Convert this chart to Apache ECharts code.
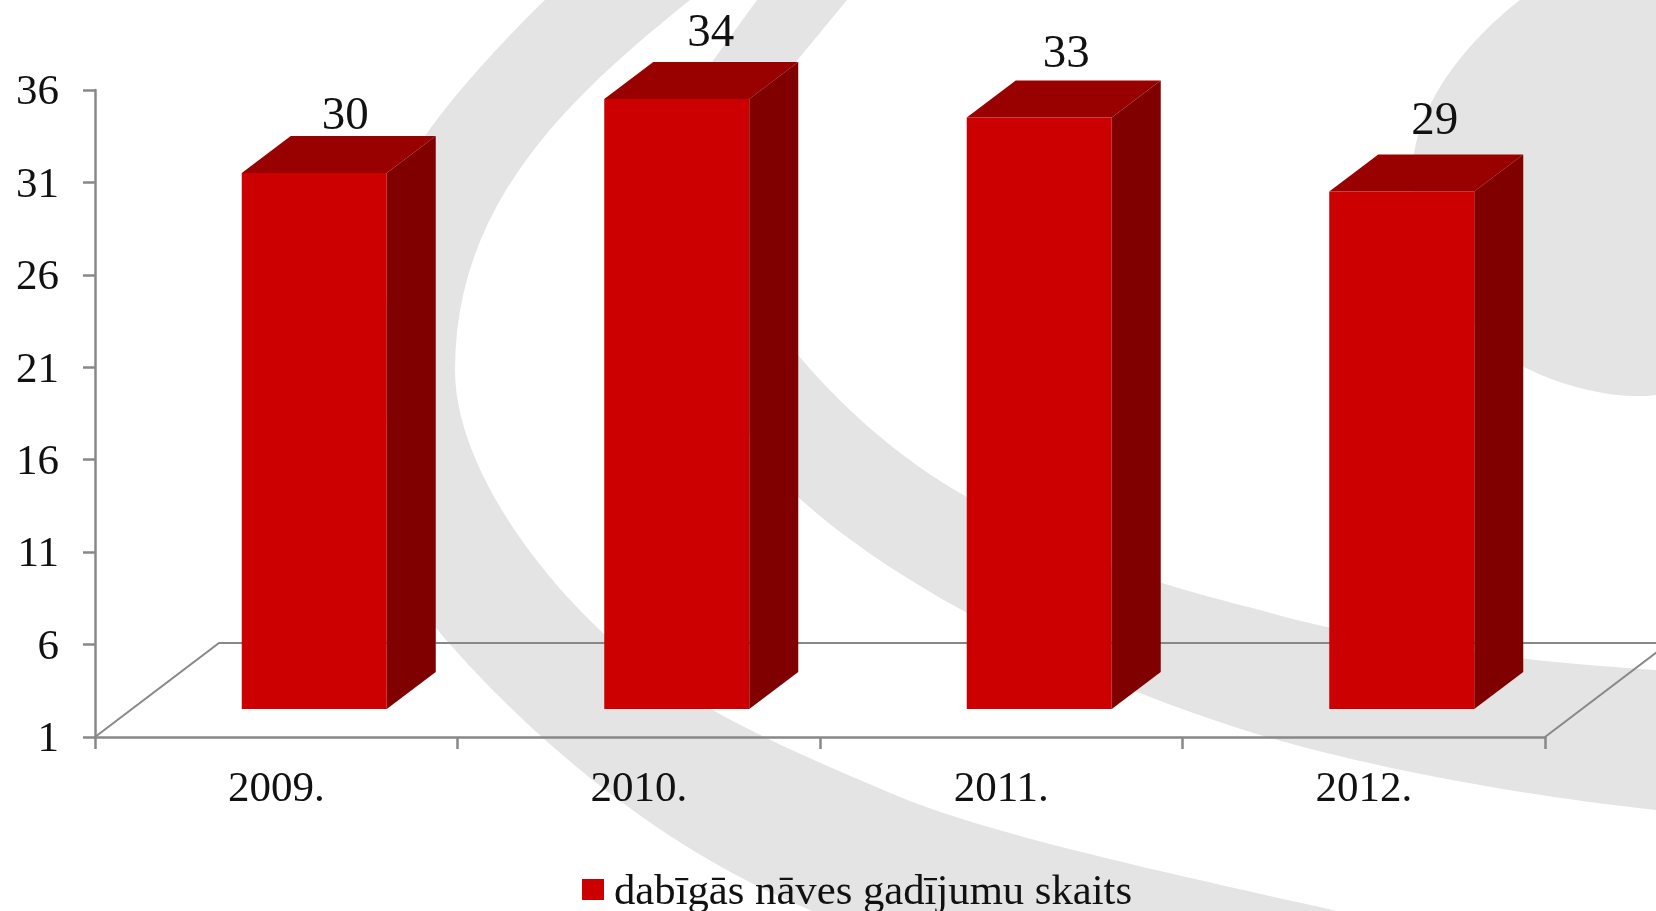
<!DOCTYPE html>
<html>
<head>
<meta charset="utf-8">
<style>
  html, body { margin: 0; padding: 0; background: #fff; }
  #chart { width: 1656px; height: 911px; }
</style>
<script src="https://cdn.jsdelivr.net/npm/echarts@6/dist/echarts.min.js"></script>
</head>
<body>
<div id="chart"></div>
<script>
const years = ['2009.', '2010.', '2011.', '2012.'];
const deaths = [30, 34, 33, 29];
const yTicks = [1, 6, 11, 16, 21, 26, 31, 36];
const seriesName = 'dabīgās nāves gadījumu skaits';

const FONT = '"Liberation Serif", "Times New Roman", serif';
const AXIS_COLOR = '#888888';
const SWIRL_COLOR = '#e4e4e4';

// fake 3d: the floor depth, and where a bar stands on that floor
const floorDepth = [124, 94];
const barShift = [38, 28];
const barDepth = [49, 37];
// data labels sit a bit unevenly in the original, offset from category centre / bar top
const labelOffset = [[69, -4.5], [72, 4.5], [65, 2.5], [71, 9.5]];

// background swirl, traced by hand: a start point, then cubic segments [c1, c2, end]
// a segment with only an end point is a straight line
const swirls = [
  [[610, -60],
   [[530, 10], [465, 80], [427, 133]],
   [[360, 230], [380, 570], [436, 628]],
   [[515, 722], [650, 845], [810, 910]],
   [[900, 970]], [[1500, 970]], [[1337, 911]],
   [[1200, 880], [1000, 838], [900, 797]],
   [[800, 755], [680, 705], [603, 633]],
   [[530, 565], [455, 460], [455, 370]],
   [[455, 205], [565, 100], [690, 0]],
   [[760, -60]]],
  [[770, -30],
   [[757, 0]], [[712, 62]],
   [[675, 120], [680, 400], [798, 497]],
   [[900, 590], [1080, 680], [1260, 735]],
   [[1380, 770], [1520, 795], [1656, 810]],
   [[1760, 820]], [[1760, 675]], [[1656, 670]],
   [[1530, 662], [1380, 645], [1260, 610]],
   [[1160, 585], [1060, 555], [967, 497]],
   [[900, 460], [840, 405], [798, 355]],
   [[745, 295], [750, 115], [800, 57]],
   [[847, 0]], [[895, -60]]],
  [[1580, -40],
   [[1490, 10], [1425, 85], [1414, 153]],
   [[1400, 230], [1450, 320], [1524, 367]],
   [[1565, 388], [1620, 400], [1656, 395]],
   [[1760, 370]], [[1760, -60]]]
];

function swirlPoints (swirl) {
  const points = [swirl[0]];
  let p = swirl[0];
  swirl.slice(1).forEach(seg => {
    if (seg.length === 1) {
      points.push(seg[0]);
    } else {
      for (let k = 1; k <= 24; k++) {
        const t = k / 24;
        const u = 1 - t;
        points.push([0, 1].map(n =>
          u * u * u * p[n] + 3 * u * u * t * seg[0][n] + 3 * u * t * t * seg[1][n] + t * t * t * seg[2][n]));
      }
    }
    p = seg[seg.length - 1];
  });
  return points;
}

function renderFloor (params, api) {
  const g = params.coordSys;
  const bottom = g.y + g.height;
  return {
    type: 'polyline',
    shape: {
      points: [
        [g.x, bottom],
        [g.x + floorDepth[0], bottom - floorDepth[1]],
        [g.x + g.width + floorDepth[0], bottom - floorDepth[1]],
        [g.x + g.width, bottom]
      ]
    },
    style: { stroke: AXIS_COLOR, lineWidth: 2, fill: null },
    silent: true
  };
}

function renderBar (params, api) {
  const i = api.value(0);
  const v = api.value(1);
  const top = api.coord([i, v]);
  const base = api.coord([i, yTicks[0]]);
  const w = api.size([1, 0])[0] * 0.4;
  const x0 = top[0] - w / 2 + barShift[0];
  const x1 = x0 + w;
  const y0 = top[1] - barShift[1];
  const y1 = base[1] - barShift[1];
  const dx = barDepth[0];
  const dy = barDepth[1];
  const off = labelOffset[params.dataIndex];
  return {
    type: 'group',
    children: [
      { type: 'polygon', shape: { points: [[x0, y0], [x0 + dx, y0 - dy], [x1 + dx, y0 - dy], [x1, y0]] }, style: { fill: '#990000' } },
      { type: 'polygon', shape: { points: [[x1, y0], [x1 + dx, y0 - dy], [x1 + dx, y1 - dy], [x1, y1]] }, style: { fill: '#800000' } },
      { type: 'rect', shape: { x: x0, y: y0, width: w, height: y1 - y0 }, style: { fill: '#cc0000' } },
      {
        type: 'text',
        style: {
          text: String(v),
          x: top[0] + off[0],
          y: y0 - dy - off[1],
          align: 'center',
          verticalAlign: 'bottom',
          font: '47px ' + FONT,
          fill: '#111'
        }
      }
    ]
  };
}

const myChart = echarts.init(document.getElementById('chart'));
myChart.setOption({
  animation: false,
  backgroundColor: '#fff',
  graphic: {
    elements: swirls.map(swirl => ({
      type: 'polygon',
      z: -10,
      silent: true,
      shape: { points: swirlPoints(swirl) },
      style: { fill: SWIRL_COLOR }
    }))
  },
  grid: { left: 95, right: 111, top: 90, bottom: 174 },
  legend: {
    left: 577,
    top: 866,
    icon: 'rect',
    itemWidth: 22,
    itemHeight: 21,
    data: [seriesName],
    formatter: '{t|{name}}',
    textStyle: {
      rich: {
        t: { fontFamily: FONT, fontSize: 42.7, color: '#111', padding: [6, 0, 0, 5] }
      }
    }
  },
  xAxis: {
    type: 'category',
    data: years,
    axisLine: { lineStyle: { color: AXIS_COLOR, width: 2.5 } },
    axisTick: { show: true, length: 12, lineStyle: { color: AXIS_COLOR, width: 2.5 } },
    axisLabel: { margin: 31, fontFamily: FONT, fontSize: 43, color: '#111' }
  },
  yAxis: {
    type: 'value',
    min: yTicks[0],
    max: yTicks[yTicks.length - 1],
    splitLine: { show: false },
    axisLine: { show: true, lineStyle: { color: AXIS_COLOR, width: 2.5 } },
    axisTick: { show: true, length: 12, customValues: yTicks, lineStyle: { color: AXIS_COLOR, width: 2.5 } },
    axisLabel: { margin: 36, customValues: yTicks, verticalAlign: 'top', lineHeight: 6, fontFamily: FONT, fontSize: 43, color: '#111' }
  },
  series: [
    {
      type: 'custom',
      renderItem: renderFloor,
      data: [[0, yTicks[0]]],
      encode: { x: 0, y: 1 },
      clip: false,
      z: 1,
      silent: true
    },
    {
      name: seriesName,
      type: 'custom',
      renderItem: renderBar,
      data: deaths.map((d, i) => [i, d]),
      encode: { x: 0, y: 1 },
      itemStyle: { color: '#cc0000' },
      clip: false,
      z: 2
    }
  ]
});
window.addEventListener('resize', () => { myChart.resize(); });
</script>
</body>
</html>
